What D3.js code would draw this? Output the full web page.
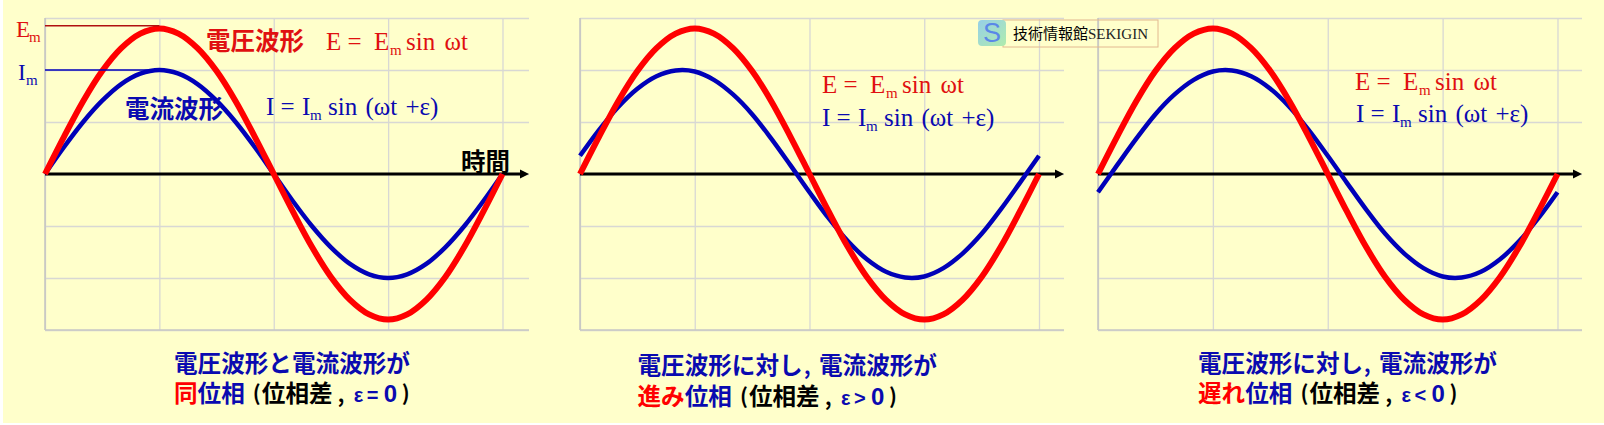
<!DOCTYPE html>
<html><head><meta charset="utf-8">
<script src="https://cdnjs.cloudflare.com/ajax/libs/d3/7.8.5/d3.min.js"></script>
<style>html,body{margin:0;padding:0;background:#fff;overflow:hidden}svg{display:block}</style>
</head><body><svg id="c" width="1604" height="425"></svg>
<script>
const phase=[0,15,30,45,60,75,90,105,120,135,150,165,180,195,210,225,240,255,270,285,300,315,330,345,360];
const voltage=[0,.72,1.4,1.98,2.42,2.7,2.8,2.7,2.42,1.98,1.4,.72,0,-.72,-1.4,-1.98,-2.42,-2.7,-2.8,-2.7,-2.42,-1.98,-1.4,-.72,0];
const currentInPhase=[0,.52,1,1.41,1.73,1.93,2,1.93,1.73,1.41,1,.52,0,-.52,-1,-1.41,-1.73,-1.93,-2,-1.93,-1.73,-1.41,-1,-.52,0];
const currentLead=[.35,.85,1.29,1.64,1.88,1.99,1.97,1.81,1.53,1.15,.68,.17,-.35,-.85,-1.29,-1.64,-1.88,-1.99,-1.97,-1.81,-1.53,-1.15,-.68,-.17,.35];
const currentLag=[-.35,.17,.68,1.15,1.53,1.81,1.97,1.99,1.88,1.64,1.29,.85,.35,-.17,-.68,-1.15,-1.53,-1.81,-1.97,-1.99,-1.88,-1.64,-1.29,-.85,-.35];
const xTicks=[0,90,180,270,360];
const yTicks=[-3,-2,-1,0,1,2,3];
const levelE=2.85, levelI=2;

const RED="#ff0000", BLUE="#0000b8", TEXTRED="#e01010", TEXTBLUE="#0a0ab0";
const CJK='"Noto Sans CJK JP"', SERIF='"Liberation Serif"', SANS='"Liberation Sans"';
const svg=d3.select("#c");
svg.append("rect").attr("x",3).attr("y",0).attr("width",1601).attr("height",423).attr("fill","#ffffcb");

const y=d3.scaleLinear().domain([-3,3]).range([330,18]);
function panel(x0,x360,right,current){
  const x=d3.scaleLinear().domain([0,360]).range([x0,x360]);
  const g=svg.append("g");
  const gx=g.append("g").call(d3.axisBottom(x).tickValues(xTicks).tickSize(y(-3)-y(3)).tickSizeOuter(0).tickFormat(""));
  gx.attr("transform",`translate(0,${y(3)})`);
  gx.select(".domain").remove();
  gx.selectAll("line").attr("stroke","#d8d8d4").attr("stroke-width",1.3);
  const gy=g.append("g").attr("transform",`translate(${x0},0)`)
    .call(d3.axisRight(y).tickValues(yTicks).tickSize(right-x0).tickFormat(""));
  gy.select(".domain").remove();
  gy.selectAll("line").attr("stroke","#d8d8d4").attr("stroke-width",1.3);
  g.append("line").attr("x1",x0).attr("x2",x0).attr("y1",y(3)).attr("y2",y(-3)).attr("stroke","#c4c4c0").attr("stroke-width",1.5);
  g.append("line").attr("x1",x0).attr("x2",right).attr("y1",y(-3)).attr("y2",y(-3)).attr("stroke","#c8c8c4").attr("stroke-width",1.5);
  g.append("line").attr("x1",x0).attr("x2",right-6).attr("y1",y(0)).attr("y2",y(0)).attr("stroke","#000").attr("stroke-width",3);
  g.append("path").attr("d",d3.line()([[right,y(0)],[right-9,y(0)-4.5],[right-9,y(0)+4.5]])+"Z").attr("fill","#000");
  const line=d3.line().x((d,i)=>x(phase[i])).y(d=>y(d)).curve(d3.curveCatmullRom);
  g.append("path").datum(current).attr("d",line).attr("fill","none").attr("stroke",BLUE).attr("stroke-width",4.5);
  g.append("path").datum(voltage).attr("d",line).attr("fill","none").attr("stroke",RED).attr("stroke-width",6);
  return {x,g};
}
const P1=panel(45,502.5,529,currentInPhase);
const P2=panel(580,1039,1064,currentLead);
const P3=panel(1098,1557.5,1582,currentLag);

P1.g.append("line").attr("x1",P1.x(0)).attr("x2",P1.x(90)).attr("y1",y(levelE)).attr("y2",y(levelE)).attr("stroke","#b01010").attr("stroke-width",1.6);
P1.g.append("line").attr("x1",P1.x(0)).attr("x2",P1.x(90)).attr("y1",y(levelI)).attr("y2",y(levelI)).attr("stroke",BLUE).attr("stroke-width",1.6);

function t(str,px,py,color,size,family,weight){
  return svg.append("text").attr("x",px).attr("y",py).attr("fill",color).attr("font-size",size)
    .attr("font-family",family).attr("font-weight",weight||"normal").text(str);
}
function eqE(px,py){
  t("E =",px,py,TEXTRED,25,SERIF);
  t("E",px+48,py,TEXTRED,25,SERIF);
  t("m",px+64,py+5,TEXTRED,15,SERIF);
  t("sin ωt",px+80,py,TEXTRED,25,SERIF).attr("word-spacing",3);
}
function eqI(px,py){
  t("I =",px,py,TEXTBLUE,25,SERIF);
  t("I",px+36,py,TEXTBLUE,25,SERIF);
  t("m",px+44,py+5,TEXTBLUE,15,SERIF);
  t("sin (ωt +ε)",px+62,py,TEXTBLUE,25,SERIF).attr("word-spacing",2);
}
t("E",16,37,TEXTRED,23,SERIF); t("m",29,42,TEXTRED,15,SERIF);
t("I",18,80,TEXTBLUE,23,SERIF); t("m",26,85,TEXTBLUE,15,SERIF);
t("電圧波形",206,50,TEXTRED,24.5,CJK,700);
t("電流波形",125,118,TEXTBLUE,24.5,CJK,700);
t("時間",461,171,"#000",24.5,CJK,700);
eqE(326,50); eqI(266,115);
eqE(822,93); eqI(822,126);
eqE(1355,90); eqI(1356,122);

t("電圧波形と電流波形が",174,372,TEXTBLUE,23.6,CJK,700);
function line2(px,py,red,blue){
  t(red,px,py,RED,23.6,CJK,700);
  const bx=px+red.length*23.6;
  t(blue,bx,py,TEXTBLUE,23.6,CJK,700);
  return bx+blue.length*23.6;
}
function tail(px,py,sym){
  t("(",px+5,py-1,"#000",21,CJK,700);
  t("位相差",px+14,py,"#000",23.6,CJK,700);
  t(",",px+90,py,"#000",20,CJK,700);
  t("ε",px+106,py,TEXTBLUE,20,SANS,700);
  t(sym,px+119,py,TEXTBLUE,20,SANS,700);
  t("0",px+136,py,TEXTBLUE,24,SANS,700);
  t(")",px+154,py-1,"#000",21,CJK,700);
}
tail(line2(174,402,"同","位相")+3,402,"=");
t("電圧波形に対し",637.5,374,TEXTBLUE,23.6,CJK,700);
t(",",804,374,TEXTBLUE,20,CJK,700);
t("電流波形が",819,374,TEXTBLUE,23.6,CJK,700);
tail(line2(637.5,405,"進み","位相")+3,405,">");
t("電圧波形に対し",1198,372,TEXTBLUE,23.6,CJK,700);
t(",",1364,372,TEXTBLUE,20,CJK,700);
t("電流波形が",1379,372,TEXTBLUE,23.6,CJK,700);
tail(line2(1198,402,"遅れ","位相")+3,402,"<");

const defs=svg.append("defs");
const gr=defs.append("linearGradient").attr("id","ic").attr("x1",0).attr("y1",0).attr("x2",1).attr("y2",1);
gr.append("stop").attr("offset",0).attr("stop-color","#96d0e8");
gr.append("stop").attr("offset",1).attr("stop-color","#b0ecac");
svg.append("rect").attr("x",1003).attr("y",20).attr("width",155).attr("height",27).attr("fill","none").attr("stroke","#e2b890").attr("stroke-width",1);
svg.append("rect").attr("x",978).attr("y",20).attr("width",28).attr("height",26).attr("rx",4).attr("fill","url(#ic)");
t("S",983,42,"#5a88e8",27,SANS);
t("技術情報館",1013,39,"#000",15,CJK);
t("SEKIGIN",1088,39,"#222",15,SERIF);
</script></body></html>
